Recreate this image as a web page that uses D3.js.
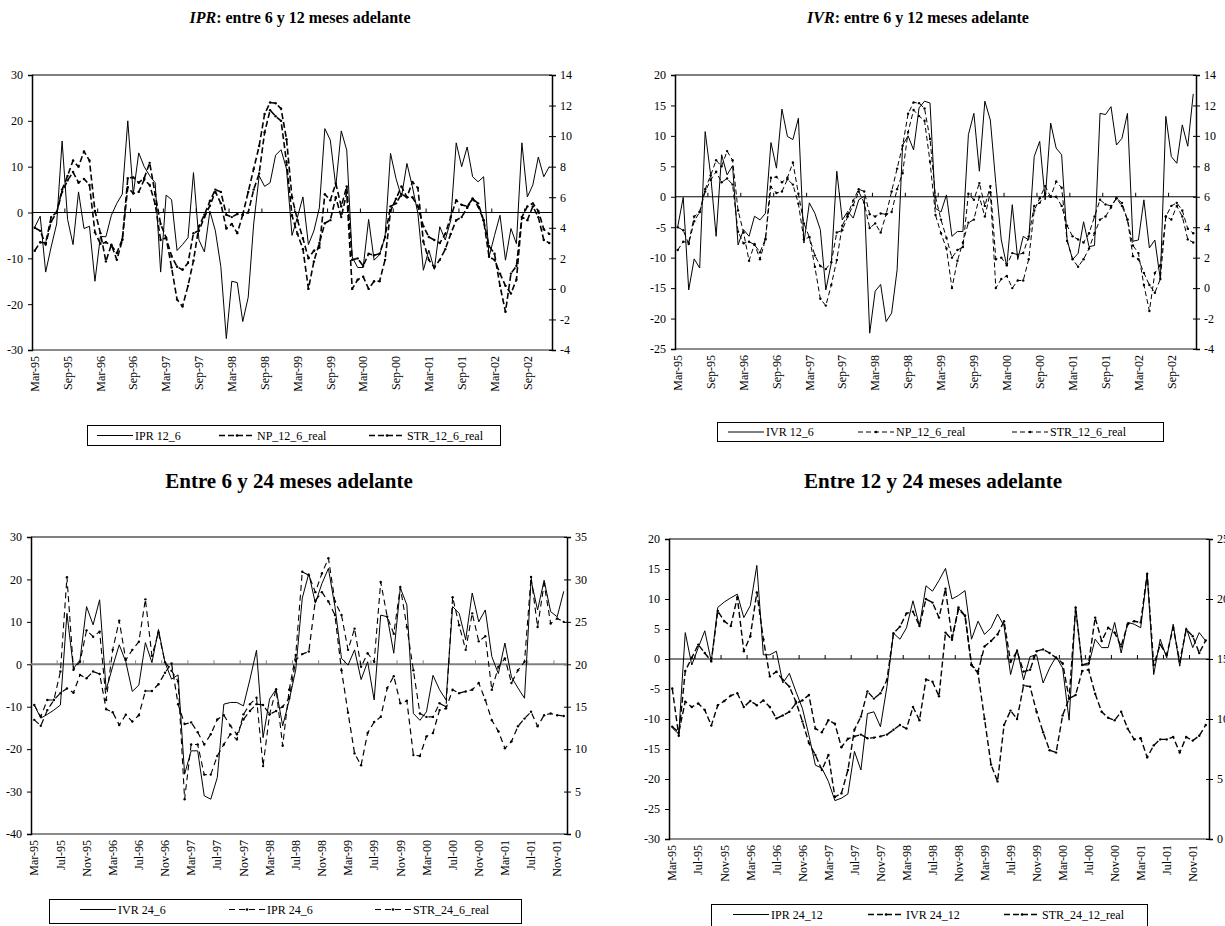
<!DOCTYPE html>
<html>
<head>
<meta charset="utf-8">
<script src="https://cdn.jsdelivr.net/npm/d3@7"></script>
<style>
  body { margin: 0; background: #fff; }
  svg { display: block; }
  text { font-family: "Liberation Serif", "Times New Roman", serif; fill: #000; }
</style>
</head>
<body>
<svg id="chart" width="1225" height="926"></svg>
<script>
// ---- categories / tick labels ----
const months = d3.utcMonth.range(new Date(Date.UTC(1995, 2, 1)), new Date(Date.UTC(2003, 1, 1)));
const catsAll = months.map(d3.utcFormat('%b-%y'));   // Mar-95 .. Jan-03
const cats95 = catsAll.slice(0, 95);
const cats82 = catsAll.slice(0, 82);
const cats83 = catsAll.slice(0, 83);

const ticks6 = ['Mar-95','Sep-95','Mar-96','Sep-96','Mar-97','Sep-97','Mar-98','Sep-98',
  'Mar-99','Sep-99','Mar-00','Sep-00','Mar-01','Sep-01','Mar-02','Sep-02'];
const ticks4 = ['Mar-95','Jul-95','Nov-95','Mar-96','Jul-96','Nov-96','Mar-97','Jul-97','Nov-97',
  'Mar-98','Jul-98','Nov-98','Mar-99','Jul-99','Nov-99','Mar-00','Jul-00','Nov-00',
  'Mar-01','Jul-01','Nov-01'];

// ---- panel 1 : IPR 12_6 (left axis), real rates (right axis) ----
const ipr12_6 = [
  -3.2, -0.8, -13, -7.5, -2.5, 15.6, -1.5, -7, 4.5, -3.5,
  -3, -15, -5.2, -5.3, -0.6, 2, 4, 20, 4, 13,
  10, 8, 6.5, -13, 3.8, 2.8, -8.3, -7, -5.5, 8.7,
  -6, -8.6, 0.3, -4, -11.8, -27.5, -15, -15.3, -23.8, -18.5,
  -2.5, 8, 5.7, 6.5, 12.5, 13.7, 9.5, -5, -1, 3.4,
  -7, -4, 1, 18.3, 15.8, 5.7, 17.8, 13.6, -9.7, -12,
  -12, -1.5, -10.4, -9.2, -5.3, 12.9, 7.4, 3.4, 10.7, 5.6,
  -0.2, -12.6, -8.2, -12.4, -3.1, -6, -1.7, 15.2, 10, 14.3,
  7.8, 6.7, 7.8, -9.7, -5, -0.6, -10.4, -3.5, -6.8, 15.2,
  3.4, 6, 12.1, 7.8, 10
];
const np12_6real = [
  2.5, 3.05, 3.0, 4.7, 5.0, 6.5, 7.4, 8.4, 8.0, 9.0,
  8.4, 5.1, 3.65, 1.8, 2.9, 1.9, 3.2, 7.25, 7.3, 6.95,
  7.25, 8.25, 6.2, 4.25, 3.35, 1.4, -0.7, -1.15, 0.2, 1.85,
  4.1, 4.85, 5.75, 6.5, 6.35, 4.85, 4.7, 4.9, 4.85, 6.35,
  7.85, 9.35, 11.45, 12.2, 12.15, 11.8, 9.8, 6.0, 4.5, 3.3,
  2.0, 2.5, 2.7, 6.2, 5.8, 6.9, 5.4, 6.7, 1.9, 2.0,
  1.5, 2.3, 2.2, 2.3, 3.4, 5.4, 5.6, 6.2, 6.0, 7.0,
  6.6, 3.1, 1.9, 1.4, 1.9, 2.6, 3.6, 4.5, 4.7, 5.3,
  5.9, 5.4, 4.5, 2.8, 2.3, 0.2, -1.5, 1.0, 1.5, 4.7,
  4.5, 5.4, 4.7, 3.2, 3.0
];
const str12_6real = [
  4.0, 3.8, 2.9, 4.4, 5.0, 6.35, 7.1, 7.65, 6.95, 7.2,
  6.8, 3.7, 2.95, 3.05, 2.85, 2.35, 3.25, 6.65, 6.25, 6.35,
  7.15, 6.8, 5.55, 3.2, 3.35, 2.15, 1.45, 1.25, 1.7, 3.65,
  3.8, 4.7, 5.45, 6.35, 5.6, 3.95, 4.25, 3.65, 4.85, 5.0,
  6.5, 7.55, 10.25, 11.7, 11.3, 11.0, 8.3, 4.8, 3.6, 2.6,
  0.0, 1.8, 3.0, 4.3, 4.5, 6.0, 4.7, 6.3, 0.0, 0.6,
  0.8, 0.0, 0.5, 0.5, 1.9, 5.1, 5.9, 6.7, 6.0, 6.0,
  5.4, 4.1, 3.4, 3.2, 3.0, 3.6, 4.7, 5.8, 5.5, 5.4,
  5.9, 5.6, 4.5, 2.1, 1.9, 1.0, 0.2, -0.3, 0.6, 4.7,
  5.4, 5.6, 5.1, 3.9, 3.6
];

// ---- panel 2 : IVR 12_6 ----
const ivr12_6 = [
  -4.9, -0.1, -15.3, -10.2, -11.7, 10.7, 3.6, -6.5, 6.9, 3.6,
  5.1, -7.9, -5.4, -6.5, -3.2, -3.8, -2.7, 8.9, 4.7, 14.4,
  9.9, 9.4, 12.9, -7.6, -1.0, -2.7, -5.4, -15.3, -10.9, 4.2,
  -3.8, -2.4, -3.5, -0.5, 0.1, -22.4, -15.5, -14.4, -20.5, -19.1,
  -12.0, 8.5, 10.0, 7.7, 14.6, 15.7, 15.4, -1.9, -2.5, 0.3,
  -6.5, -5.7, -5.7, 10.2, 13.7, 4.2, 15.7, 12.6, 2.2, -7.1,
  -11.4, -1.3, -10.3, -6.5, -7.1, 6.6, 9.1, -0.5, 12.1, 8.0,
  6.9, -7.1, -10.3, -9.3, -4.1, -8.2, -8.0, 13.7, 13.5, 14.8,
  8.5, 9.6, 13.7, -7.3, -7.1, -0.5, -8.4, -7.1, -13.6, 13.2,
  6.6, 5.5, 11.8, 8.3, 16.9
];

// ---- panel 3 : entre 6 y 24 meses ----
const ivr24_6 = [
  -9.6, -12.7, -11.8, -10.8, -9.6, 12, -1, 1, 13.6, 9.3,
  15.2, -6, -0.5, 4.6, 0.6, -6.4, -4.9, 5.1, 0.4, 8.2,
  0.4, -3.5, -2.5, -25.9, -20.4, -20.4, -31, -31.8, -26.7, -9.4,
  -9, -9, -9.8, -3.5, 3.3, -17.3, -8.2, -5.9, -14.5, -8.5,
  -1.3, 15.6, 21.4, 14.4, 19, 22.6, 13.6, 1.4, -0.2, 3.4,
  -3.6, 0.6, -8.4, 11.6, 11.2, 2.6, 18, 14, -11.6, -13.2,
  -11.2, -2.6, -6, -8.4, 13.6, 12, 5.8, 16.8, 10, 12.8,
  1.8, -2.2, 5, -3, -5.6, -8, 19.8, 12.8, 19.8, 12.4,
  11.2, 17.2
];
const ipr24_6 = [
  -9.6, -12.3, -8.4, -8.4, -1.7, 20.5, -1.3, 0.6, 8, 6.5,
  7.7, -8.4, 3.4, 10.3, 1, 3.4, 5.3, 15.3, 2, 7.5,
  0.5, -1.5, -4, -31.8, -18.9, -18.9, -26, -26, -21.6, -18.9,
  -16.5, -17.7, -11.8, -9.4, -7.9, -24, -11.8, -5.9, -19.2, -6,
  2.2, 21.8, 21, 17, 21.4, 25, 14.8, 11.6, 3.4, 8.4,
  -0.6, 2.6, 0.6, 19.4, 11.2, 7.2, 18.2, 8.8, -1.4, -11.6,
  -12.4, -12.4, -9.2, -10, 15.8, 9.2, 3.4, 12, 5.4, 6.6,
  -6, -0.6, 1.4, -4.4, -1.4, 0.6, 20.6, 8.8, 19, 9.6,
  10.8, 10
];
const str24_6real = [
  13.45, 12.75, 14.6, 15.8, 16.6, 17.15, 16.65, 18.75, 18.35, 19.15,
  18.85, 14.7, 14.35, 12.85, 14.05, 13.25, 14, 16.85, 16.85, 17.65,
  19, 20.1, 15.3, 12.95, 13.15, 12, 10.55, 11.75, 13.5, 14,
  12.75, 11.75, 13.5, 14.5, 15.3, 15.2, 14.1, 14.5, 15, 16,
  20.5, 21.2, 21.5, 27.5, 28.5, 27.4, 25.8, 19.3, 14.3, 9.5,
  8.1, 11.9, 13.2, 13.8, 17.2, 18.6, 15.4, 15.7, 9.3, 9.2,
  11.5, 11.9, 14.6, 14.8, 17, 16.6, 16.8, 17, 17.8, 15.8,
  13.4, 12.1, 10.1, 10.9, 12.7, 13.6, 14.4, 12.7, 14, 14.2,
  14, 13.9
];

// ---- panel 4 : entre 12 y 24 meses ----
const ipr24_12 = [
  -11.5, -12.5, 4.4, -1, 1.9, 4.7, -0.4, 8.6, 9.5, 10.2,
  10.8, 6.9, 8.9, 15.6, 0.7, 0.7, 1.3, -4, -2.4, -5.4,
  -8.2, -12.7, -17.7, -18.2, -20.4, -23.6, -23.2, -22.5, -15.4, -18.5,
  -9.1, -8.8, -11.3, -4.6, 4.3, 3.3, 5.2, 9.7, 5.5, 12.2,
  11.3, 13.1, 15.1, 10, 10.6, 11.4, 3.3, 6.3, 4.1, 5.2,
  7.5, 5.5, -2.6, 1.6, -3.5, 0.4, 0.7, -4, -1.5, 0.4,
  -1.5, -10.2, 8.6, -1, -1, 3.3, 1.9, 1.9, 6.1, 1,
  6.1, 5.8, 5.2, 14.2, -2.6, 3.3, 0.2, 5.8, -1.2, 5.2,
  1.9, 4.4, 3
];
const ivr24_12 = [
  -4.9, -12.8, -2, 0.2, 2.4, 1, -0.4, 8, 6.3, 5.5,
  10.3, 1.3, 3.8, 11.1, 3.3, -2.9, -2.1, -3.5, -4.6, -7.1,
  -10.4, -14, -16, -18.5, -16, -23, -22.4, -18.5, -11.8, -9.6,
  -5.4, -6.6, -5.7, -3.5, 4.3, 5.4, 7.6, 7.9, 5.5, 10,
  9.4, 6.9, 11.7, 3.5, 8.3, 7.2, -1, -2.1, 2.1, 3,
  4.1, 6.3, -0.5, 1.3, -2.1, -1.8, 1.3, 1.6, 1, 0.2,
  -0.7, -6.6, 8.6, -1, -0.7, 6.9, 3, 5.2, 4.4, 2.1,
  5.8, 6.3, 6.1, 14.2, -1, 2.4, 0.7, 5.2, -0.4, 4.9,
  3.8, 1, 3.1
];
const str24_12real = [
  9.35, 8.9, 11.45, 11, 11.3, 10.75, 9.45, 11.15, 11.5, 11.95,
  12.15, 11, 11.5, 11.15, 11.55, 11, 10.05, 10.3, 10.6, 11.3,
  11.55, 12, 9.2, 8.9, 9.9, 9.6, 7.65, 8.35, 8.55, 8.7,
  8.4, 8.45, 8.55, 8.7, 9.1, 9.5, 9.2, 11, 9.9, 13.3,
  13.1, 11.9, 17.2, 16.6, 19.3, 18.6, 14.5, 13.8, 10, 6.2,
  4.8, 9.5, 10.7, 10, 12.8, 12.7, 10.6, 8.9, 7.4, 7.2,
  10.3, 11.7, 12, 14, 14.1, 12.1, 10.6, 10.1, 9.9, 10.6,
  9.2, 8.3, 8.4, 6.8, 7.8, 8.3, 8.3, 8.5, 7.2, 8.5,
  8.2, 8.6, 9.5
];

const svg = d3.select('#chart');

const panels = [
  {
    cats: cats95, ticks: ticks6, every: 6,
    x0: 32, x1: 552, y0: 75, y1: 350,
    left: [-30, 30], leftStep: 10, right: [-4, 14], rightStep: 2,
    zeroColor: '#000', zeroWidth: 1,
    title: ['IPR', ': entre 6 y 12 meses adelante'], tx: 300, ty: 23, tsize: 16,
    series: [
      { name: 'IPR 12_6', data: ipr12_6, axis: 'L', dash: null, w: 1 },
      { name: 'NP_12_6_real', data: np12_6real, axis: 'R', dash: '6,3', w: 1.6, mark: true },
      { name: 'STR_12_6_real', data: str12_6real, axis: 'R', dash: '6,3', w: 1.6, mark: true }
    ],
    legend: { x: 87, y: 425, w: 413, h: 20, items: [97, 219, 369] }
  },
  {
    cats: cats95, ticks: ticks6, every: 6,
    x0: 675, x1: 1196, y0: 75, y1: 349,
    left: [-25, 20], leftStep: 5, right: [-4, 14], rightStep: 2,
    zeroColor: '#000', zeroWidth: 1,
    title: ['IVR', ': entre 6 y 12 meses adelante'], tx: 918, ty: 23, tsize: 16,
    series: [
      { name: 'IVR 12_6', data: ivr12_6, axis: 'L', dash: null, w: 1 },
      { name: 'NP_12_6_real', data: np12_6real, axis: 'R', dash: '5,3', w: 1, mark: true },
      { name: 'STR_12_6_real', data: str12_6real, axis: 'R', dash: '5,3', w: 1, mark: true }
    ],
    legend: { x: 717, y: 422, w: 446, h: 19, items: [728, 858, 1012] }
  },
  {
    cats: cats82, ticks: ticks4, every: 4,
    x0: 31, x1: 567, y0: 537, y1: 834,
    left: [-40, 30], leftStep: 10, right: [0, 35], rightStep: 5,
    zeroColor: '#808080', zeroWidth: 2,
    title: [null, 'Entre 6 y 24 meses adelante'], tx: 289, ty: 488, tsize: 21,
    series: [
      { name: 'IVR 24_6', data: ivr24_6, axis: 'L', dash: null, w: 1 },
      { name: 'IPR 24_6', data: ipr24_6, axis: 'L', dash: '6,4', w: 1.1, mark: true },
      { name: 'STR_24_6_real', data: str24_6real, axis: 'R', dash: '6,4', w: 1.2, mark: true }
    ],
    legend: { x: 49, y: 899, w: 472, h: 24, items: [80, 229, 375] }
  },
  {
    cats: cats83, ticks: ticks4, every: 4,
    x0: 669, x1: 1209, y0: 539, y1: 839,
    left: [-30, 20], leftStep: 5, right: [0, 25], rightStep: 5,
    zeroColor: '#000', zeroWidth: 1,
    title: [null, 'Entre 12 y 24 meses adelante'], tx: 933, ty: 488, tsize: 21,
    series: [
      { name: 'IPR 24_12', data: ipr24_12, axis: 'L', dash: null, w: 1 },
      { name: 'IVR 24_12', data: ivr24_12, axis: 'L', dash: '6,3', w: 1.4, mark: true },
      { name: 'STR_24_12_real', data: str24_12real, axis: 'R', dash: '6,3', w: 1.4, mark: true }
    ],
    legend: { x: 711, y: 904, w: 436, h: 26, items: [733, 868, 1004] }
  }
];

function drawPanel(p) {
  const g = svg.append('g');
  const x = d3.scaleBand().domain(p.cats).range([p.x0, p.x1]);
  const bw = x.bandwidth();
  const yL = d3.scaleLinear().domain(p.left).range([p.y1, p.y0]);
  const yR = d3.scaleLinear().domain(p.right).range([p.y1, p.y0]);

  // plot frame: top black, bottom grey
  g.append('line').attr('x1', p.x0).attr('x2', p.x1).attr('y1', p.y0).attr('y2', p.y0)
    .attr('stroke', '#000').attr('stroke-width', 1);
  g.append('line').attr('x1', p.x0).attr('x2', p.x1).attr('y1', p.y1).attr('y2', p.y1)
    .attr('stroke', '#666').attr('stroke-width', 1.5);

  // left axis
  const la = g.append('g').attr('transform', `translate(${p.x0},0)`)
    .call(d3.axisLeft(yL)
      .tickValues(d3.range(p.left[0], p.left[1] + 0.1, p.leftStep))
      .tickSize(4).tickPadding(5).tickFormat(d => String(d)));
  // right axis
  const ra = g.append('g').attr('transform', `translate(${p.x1},0)`)
    .call(d3.axisRight(yR)
      .tickValues(d3.range(p.right[0], p.right[1] + 0.1, p.rightStep))
      .tickSize(4).tickPadding(4).tickFormat(d => String(d)));
  ra.selectAll('.tick line').attr('x1', -3);
  [la, ra].forEach(a => {
    a.select('.domain').attr('stroke', '#000').attr('stroke-width', 1.5);
    a.selectAll('.tick line').attr('stroke', '#000');
    a.selectAll('text').attr('font-size', 12).attr('font-family', '"Liberation Serif", serif');
  });

  // category axis crossing at zero
  const zy = yL(0);
  g.append('line').attr('x1', p.x0).attr('x2', p.x1).attr('y1', zy).attr('y2', zy)
    .attr('stroke', p.zeroColor).attr('stroke-width', p.zeroWidth);
  const tickIdx = d3.range(p.every, p.cats.length, p.every);
  g.selectAll('.ctick').data(tickIdx).join('line')
    .attr('x1', i => x(p.cats[i])).attr('x2', i => x(p.cats[i]))
    .attr('y1', zy - 4).attr('y2', zy)
    .attr('stroke', p.zeroColor).attr('stroke-width', 1);

  // rotated category labels
  g.selectAll('.clabel').data(p.ticks).join('text')
    .attr('transform', d => `translate(${x(d) + bw / 2},${p.y1 + 6}) rotate(-90)`)
    .attr('text-anchor', 'end').attr('dy', '0.35em')
    .attr('font-size', 12)
    .text(d => d);

  // series
  p.series.forEach(s => {
    const y = s.axis === 'L' ? yL : yR;
    const line = d3.line()
      .x((d, i) => x(p.cats[i]) + bw / 2)
      .y(d => y(d));
    g.append('path').datum(s.data)
      .attr('d', line)
      .attr('fill', 'none').attr('stroke', '#000')
      .attr('stroke-width', s.w)
      .attr('stroke-dasharray', s.dash)
      .attr('stroke-linejoin', 'round');
    if (s.mark) {
      g.append('g').selectAll('circle').data(s.data).join('circle')
        .attr('cx', (d, i) => x(p.cats[i]) + bw / 2)
        .attr('cy', d => y(d))
        .attr('r', 1.2).attr('fill', '#000');
    }
  });

  // title
  const t = g.append('text').attr('x', p.tx).attr('y', p.ty)
    .attr('text-anchor', 'middle').attr('font-size', p.tsize).attr('font-weight', 'bold');
  if (p.title[0]) t.append('tspan').attr('font-style', 'italic').text(p.title[0]);
  t.append('tspan').text(p.title[1]);

  // legend
  const L = p.legend;
  g.append('rect').attr('x', L.x + 0.5).attr('y', L.y + 0.5).attr('width', L.w).attr('height', L.h)
    .attr('fill', '#fff').attr('stroke', '#000').attr('stroke-width', 1);
  const my = L.y + Math.min(L.h, 20) / 2 + 0.5;
  p.series.forEach((s, k) => {
    const lx = L.items[k];
    g.append('line').attr('x1', lx).attr('x2', lx + 36).attr('y1', my).attr('y2', my)
      .attr('stroke', '#000').attr('stroke-width', s.w)
      .attr('stroke-dasharray', s.dash);
    if (s.mark) g.append('circle').attr('cx', lx + 18).attr('cy', my).attr('r', 1.3).attr('fill', '#000');
    g.append('text').attr('x', lx + 38).attr('y', my).attr('dy', '0.35em')
      .attr('font-size', 12).text(s.name);
  });
}

panels.forEach(drawPanel);
</script>
</body>
</html>
